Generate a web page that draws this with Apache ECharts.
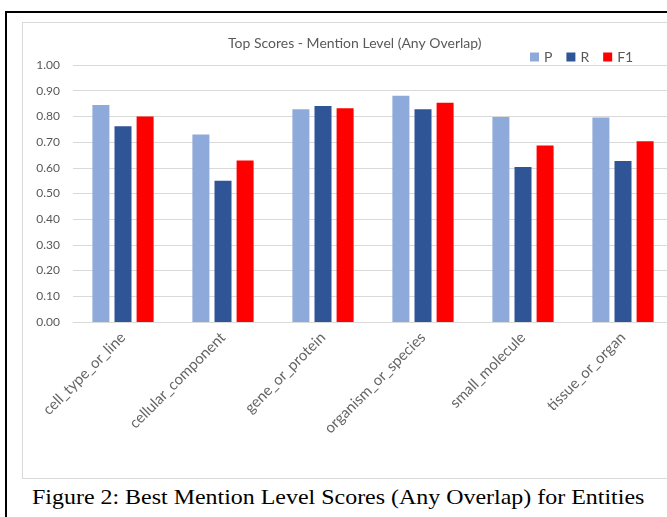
<!DOCTYPE html>
<html>
<head>
<meta charset="utf-8">
<script src="https://cdn.jsdelivr.net/npm/echarts@6/dist/echarts.min.js"></script>
<style>
    body { margin: 0; background: #fff; overflow: hidden; }
    #frame { position: absolute; left: 5px; top: 11px; width: 700px; height: 600px; border: 2px solid #000; }
    #chart { position: absolute; left: 22px; top: 22px; width: 651px; height: 455px; border: 1px solid #d9d9d9; }
    #caption { position: absolute; left: 32px; top: 485px; line-height: 24px; white-space: nowrap;
        font-family: "Liberation Serif", "DejaVu Serif", serif; font-size: 21px; color: #000;
        transform: scaleX(1.14); transform-origin: 0 0; }
</style>
</head>
<body>
<div id="frame"></div>
<div id="chart"></div>
<div id="caption">Figure 2: Best Mention Level Scores (Any Overlap) for Entities</div>
<script>
    // categories and scores
    var categories = ['cell_type_or_line', 'cellular_component', 'gene_or_protein', 'organism_or_species', 'small_molecule', 'tissue_or_organ'];
    var precision = [0.844, 0.730, 0.828, 0.880, 0.798, 0.796];
    var recall = [0.762, 0.550, 0.840, 0.828, 0.603, 0.626];
    var f1 = [0.800, 0.628, 0.832, 0.853, 0.687, 0.703];

    var myChart = echarts.init(document.getElementById('chart'));
    var font = 'Lato, "Open Sans", sans-serif';

    var bar = function (name, data, color) {
        return {
            name: name,
            type: 'bar',
            data: data,
            barWidth: 17,
            barGap: '30%',
            itemStyle: {color: color}
        };
    };

    var option = {
        animation: false,
        title: {
            text: 'Top Scores - Mention Level (Any Overlap)',
            left: 200,
            top: 8,
            textStyle: {color: '#595959', fontSize: 14, fontWeight: 'normal', fontFamily: font}
        },
        legend: {
            left: 502,
            top: 22,
            itemWidth: 9,
            itemHeight: 9,
            itemGap: 14,
            icon: 'rect',
            textStyle: {color: '#595959', fontSize: 14, fontFamily: font}
        },
        grid: {left: 50, right: 1, top: 42, bottom: 156},
        xAxis: {
            type: 'category',
            data: categories,
            axisLine: {lineStyle: {color: '#d9d9d9'}},
            axisTick: {show: false},
            axisLabel: {rotate: 45, color: '#666666', fontSize: 15, fontFamily: font, margin: 13}
        },
        yAxis: {
            type: 'value',
            min: 0,
            max: 1,
            interval: 0.1,
            axisLine: {show: false},
            axisTick: {show: false},
            splitLine: {lineStyle: {color: '#d9d9d9'}},
            axisLabel: {
                color: '#595959', fontSize: 12, fontFamily: font, margin: 13,
                formatter: function (v) { return v.toFixed(2); }
            }
        },
        series: [
            bar('P', precision, '#8eaadb'),
            bar('R', recall, '#2f5597'),
            bar('F1', f1, '#ff0000')
        ]
    };

    myChart.setOption(option);
</script>
</body>
</html>
